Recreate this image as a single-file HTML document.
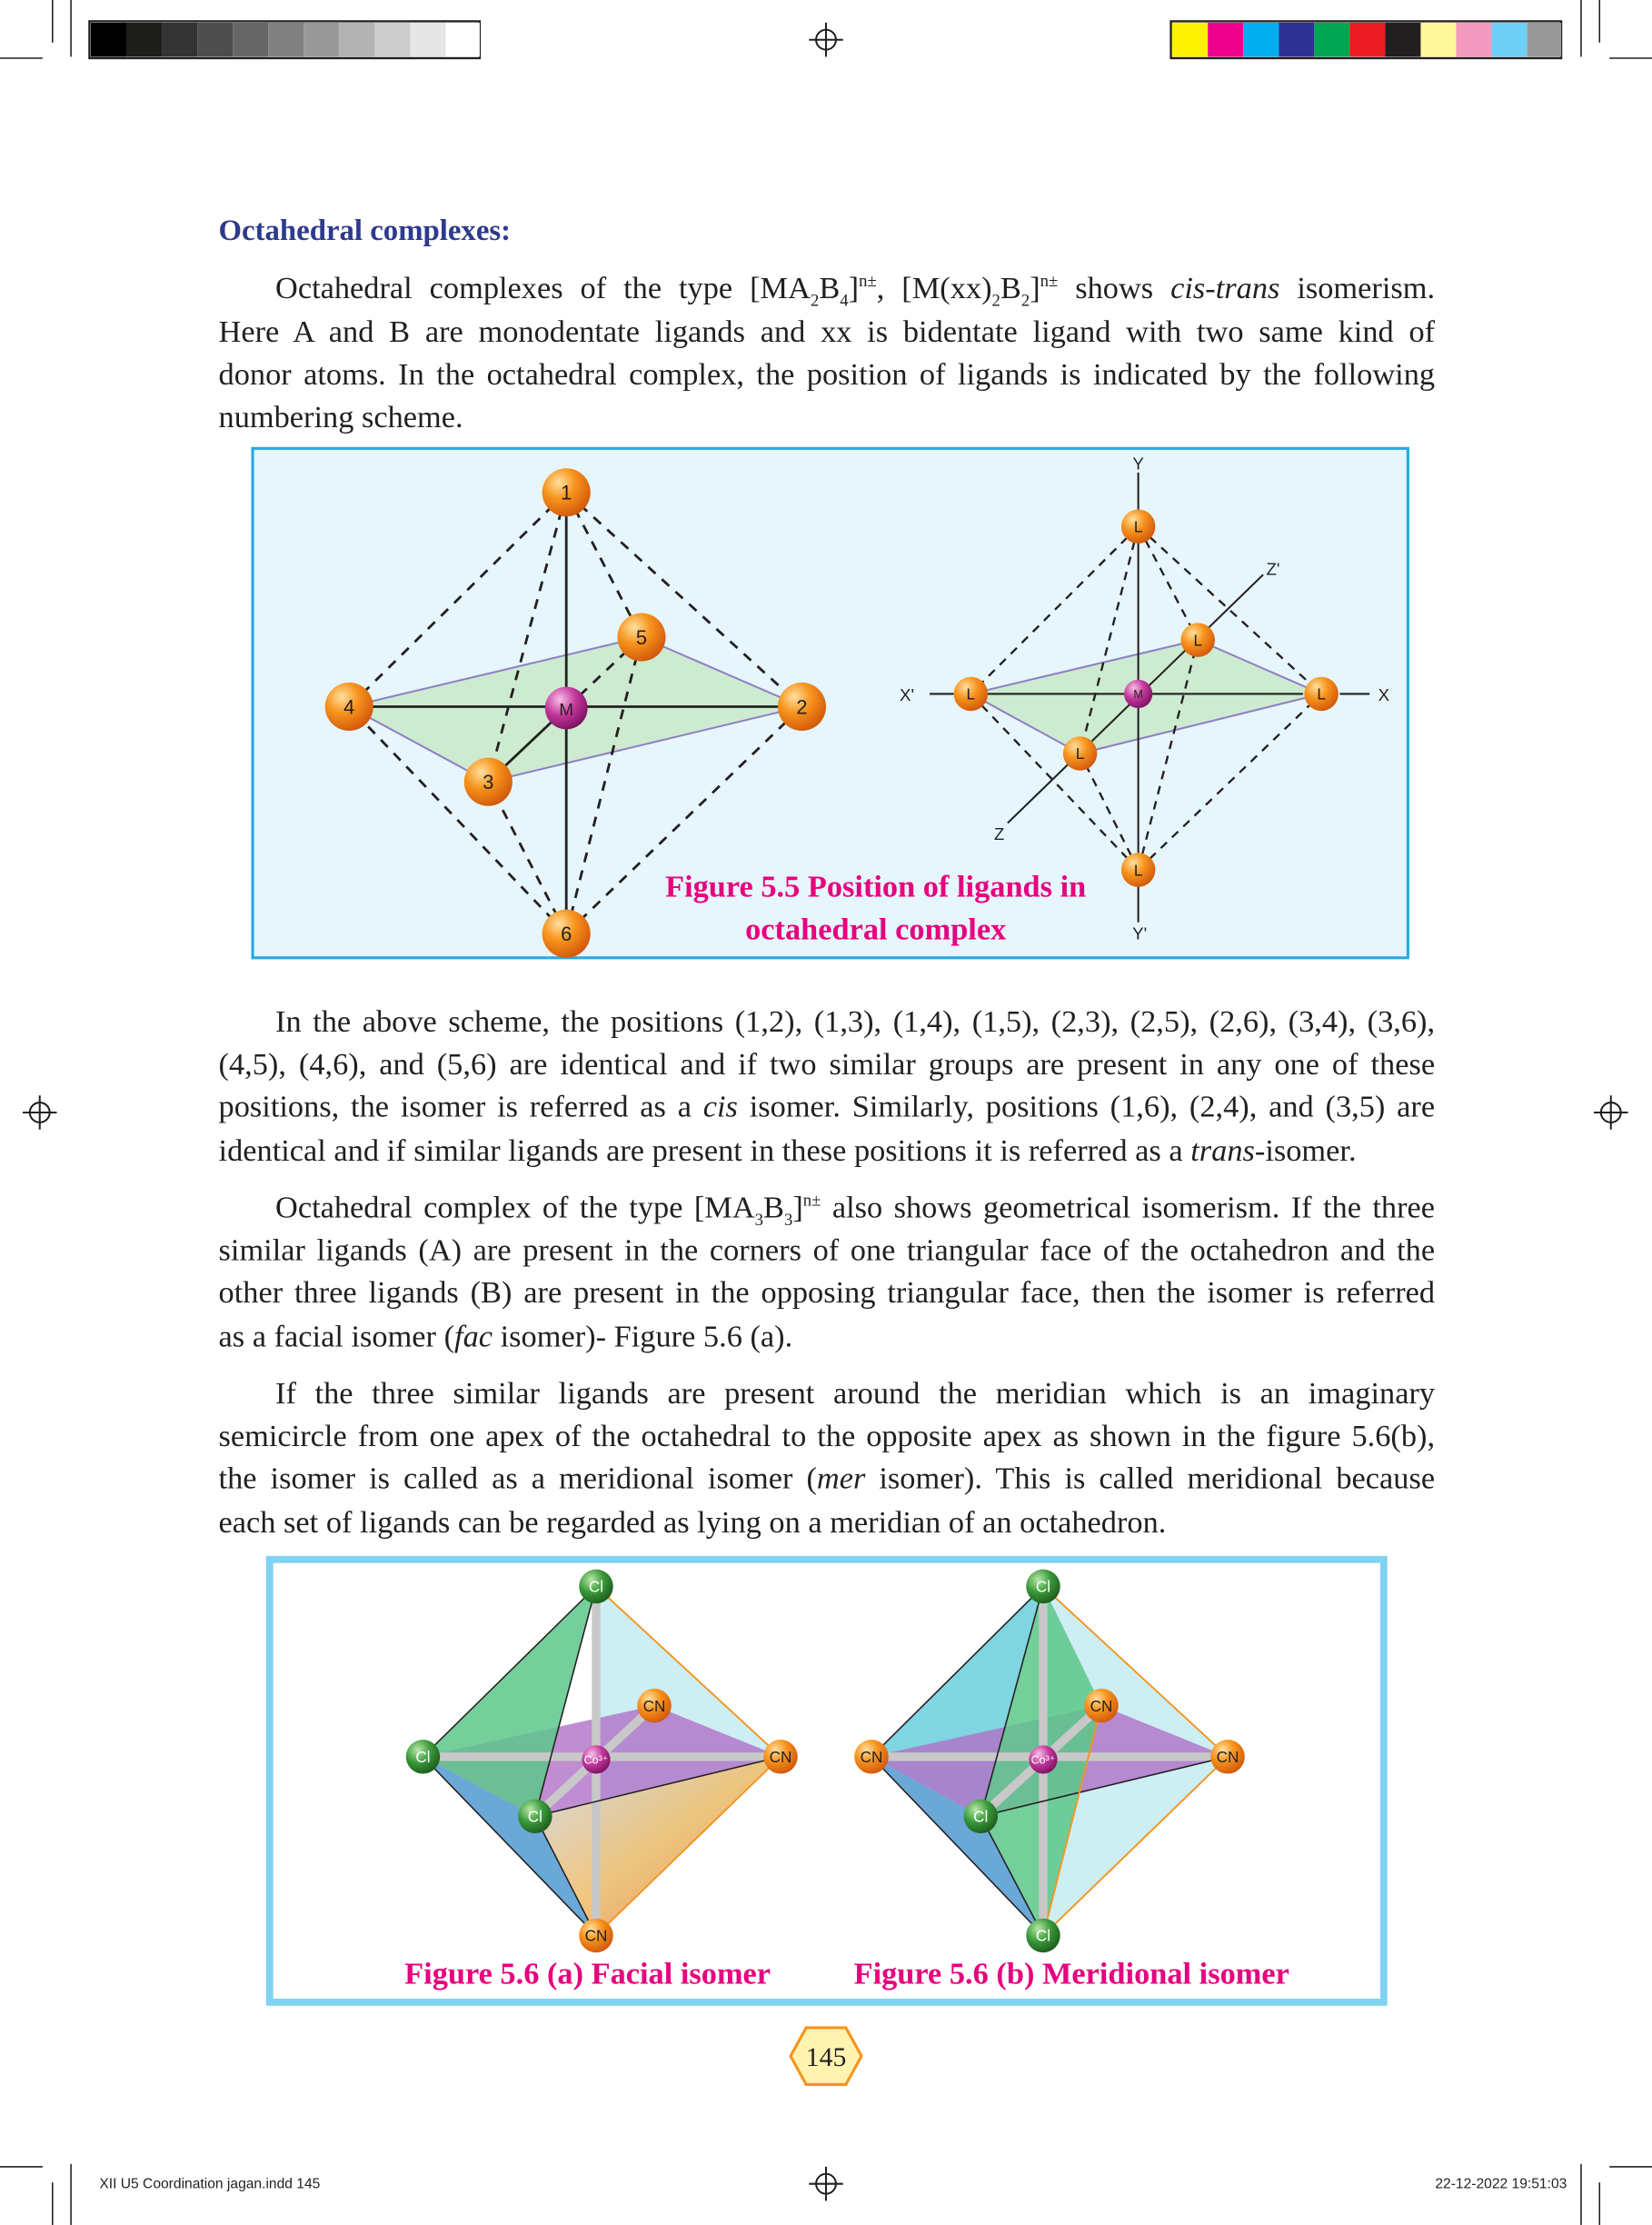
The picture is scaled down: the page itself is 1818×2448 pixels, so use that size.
<!DOCTYPE html>
<html><head><meta charset="utf-8"><style>
html,body{margin:0;padding:0;background:#fff;}
#page{position:relative;width:1164px;height:1568px;transform:scale(1.5619,1.5612);transform-origin:0 0;font-family:"Liberation Serif",serif;color:#231f20;overflow:hidden;}
.ln{position:absolute;left:154px;width:857px;font-size:22px;line-height:30px;text-align:justify;text-align-last:justify;white-space:nowrap;}
.ln.last{text-align-last:left;}
.ind{left:194px;width:817px;}
sub,sup{font-size:12px;line-height:0;}
.abs{position:absolute;}
</style></head><body>
<div id="page">
<svg class="abs" style="left:0;top:0" width="1164" height="1568">
 <g stroke="#231f20" stroke-width="1">
  <line x1="0" y1="41" x2="30" y2="41"/><line x1="37" y1="0" x2="37" y2="30"/>
  <line x1="1134" y1="41" x2="1164" y2="41"/><line x1="1127" y1="0" x2="1127" y2="30"/>
  <line x1="50" y1="0" x2="50" y2="40"/><line x1="1114" y1="0" x2="1114" y2="40"/>
  <line x1="0" y1="1527" x2="30" y2="1527"/><line x1="37" y1="1538" x2="37" y2="1568"/>
  <line x1="1134" y1="1527" x2="1164" y2="1527"/><line x1="1127" y1="1538" x2="1127" y2="1568"/>
  <line x1="50" y1="1525" x2="50" y2="1568"/><line x1="1114" y1="1525" x2="1114" y2="1568"/>
 </g>
 <rect x="63" y="15" width="275" height="26" fill="none" stroke="#231f20" stroke-width="1.5"/>
 <g>
  <rect x="64" y="16" width="25" height="24" fill="#000"/><rect x="89" y="16" width="25" height="24" fill="#1d1d1b"/>
  <rect x="114" y="16" width="25" height="24" fill="#333"/><rect x="139" y="16" width="25" height="24" fill="#4d4d4d"/>
  <rect x="164" y="16" width="25" height="24" fill="#666"/><rect x="189" y="16" width="25" height="24" fill="#808080"/>
  <rect x="214" y="16" width="25" height="24" fill="#999"/><rect x="239" y="16" width="25" height="24" fill="#b3b3b3"/>
  <rect x="264" y="16" width="25" height="24" fill="#ccc"/><rect x="289" y="16" width="25" height="24" fill="#e6e6e6"/>
  <rect x="314" y="16" width="24" height="24" fill="#fff"/>
 </g>
 <rect x="825" y="15" width="275" height="26" fill="none" stroke="#231f20" stroke-width="1.5"/>
 <g>
  <rect x="826" y="16" width="25" height="24" fill="#fff200"/><rect x="851" y="16" width="25" height="24" fill="#ec008c"/>
  <rect x="876" y="16" width="25" height="24" fill="#00aeef"/><rect x="901" y="16" width="25" height="24" fill="#2e3192"/>
  <rect x="926" y="16" width="25" height="24" fill="#00a651"/><rect x="951" y="16" width="25" height="24" fill="#ed1c24"/>
  <rect x="976" y="16" width="25" height="24" fill="#231f20"/><rect x="1001" y="16" width="25" height="24" fill="#fff799"/>
  <rect x="1026" y="16" width="25" height="24" fill="#f49ac1"/><rect x="1051" y="16" width="25" height="24" fill="#6dcff6"/>
  <rect x="1076" y="16" width="24" height="24" fill="#999"/>
 </g>
 <g fill="none" stroke="#231f20" stroke-width="1.3">
  <circle cx="582" cy="28" r="7"/><line x1="570" y1="28" x2="594" y2="28"/><line x1="582" y1="16" x2="582" y2="40"/>
  <circle cx="28" cy="784" r="7"/><line x1="16" y1="784" x2="40" y2="784"/><line x1="28" y1="772" x2="28" y2="796"/>
  <circle cx="1135" cy="784" r="7"/><line x1="1123" y1="784" x2="1147" y2="784"/><line x1="1135" y1="772" x2="1135" y2="796"/>
  <circle cx="582" cy="1539" r="7"/><line x1="570" y1="1539" x2="594" y2="1539"/><line x1="582" y1="1527" x2="582" y2="1551"/>
 </g>
</svg>

<div class="abs" style="left:154px;top:150px;font-size:21px;font-weight:bold;color:#2e3a8c">Octahedral complexes:</div>

<div class="ln ind" style="top:188px">Octahedral complexes of the type [MA<sub>2</sub>B<sub>4</sub>]<sup>n±</sup>, [M(xx)<sub>2</sub>B<sub>2</sub>]<sup>n±</sup> shows <i>cis-trans</i> isomerism.</div>
<div class="ln" style="top:219px">Here A and B are monodentate ligands and xx is bidentate ligand with two same kind of</div>
<div class="ln" style="top:249px">donor atoms. In the octahedral complex, the position of ligands is indicated by the following</div>
<div class="ln last" style="top:279px">numbering scheme.</div>

<svg class="abs" style="left:0;top:0" width="1164" height="1568">
 <defs>
  <radialGradient id="og" cx="0.35" cy="0.3" r="0.75"><stop offset="0" stop-color="#ffe0a0"/><stop offset="0.45" stop-color="#f7941d"/><stop offset="1" stop-color="#d0560a"/></radialGradient>
  <radialGradient id="mg" cx="0.35" cy="0.3" r="0.75"><stop offset="0" stop-color="#f8c0e8"/><stop offset="0.5" stop-color="#c2379a"/><stop offset="1" stop-color="#7a1060"/></radialGradient>
  <radialGradient id="gg" cx="0.35" cy="0.3" r="0.75"><stop offset="0" stop-color="#b8e8a8"/><stop offset="0.5" stop-color="#3a9a3a"/><stop offset="1" stop-color="#1c5a1c"/></radialGradient>
  <linearGradient id="warm" x1="0" y1="0" x2="1" y2="1"><stop offset="0" stop-color="#cdd6e6"/><stop offset="0.5" stop-color="#f0c070"/><stop offset="1" stop-color="#f07a50"/></linearGradient>
 </defs>
 <rect x="178" y="316" width="814" height="359" fill="#e6f6fc" stroke="#29a9e0" stroke-width="2"/>
 <polygon points="246,498 452,449 565,498 344,551" fill="#cdebd0" stroke="#8f7fc6" stroke-width="1.3"/>
 <g stroke="#231f20" stroke-width="1.8" fill="none">
  <line x1="246" y1="498" x2="565" y2="498"/><line x1="399" y1="347" x2="399" y2="658"/>
  <line x1="344" y1="551" x2="399" y2="499"/>
 </g>
 <g stroke="#231f20" stroke-width="1.8" stroke-dasharray="7,6" fill="none">
  <line x1="399" y1="499" x2="452" y2="449"/>
  <line x1="399" y1="347" x2="246" y2="498"/><line x1="399" y1="347" x2="565" y2="498"/>
  <line x1="399" y1="347" x2="344" y2="551"/><line x1="399" y1="347" x2="452" y2="449"/>
  <line x1="399" y1="658" x2="246" y2="498"/><line x1="399" y1="658" x2="565" y2="498"/>
  <line x1="399" y1="658" x2="344" y2="551"/><line x1="399" y1="658" x2="452" y2="449"/>
 </g>
 <g font-family="Liberation Sans,sans-serif" font-size="14" text-anchor="middle" fill="#231f20">
  <circle cx="399" cy="347" r="17" fill="url(#og)"/><text x="399" y="352">1</text>
  <circle cx="565" cy="498" r="17" fill="url(#og)"/><text x="565" y="503">2</text>
  <circle cx="344" cy="551" r="17" fill="url(#og)"/><text x="344" y="556">3</text>
  <circle cx="246" cy="498" r="17" fill="url(#og)"/><text x="246" y="503">4</text>
  <circle cx="452" cy="449" r="17" fill="url(#og)"/><text x="452" y="454">5</text>
  <circle cx="399" cy="658" r="17" fill="url(#og)"/><text x="399" y="663">6</text>
  <circle cx="399" cy="499" r="15" fill="url(#mg)"/><text x="399" y="504" font-size="12">M</text>
 </g>
 <polygon points="684,489 844,451 931,489 761,531" fill="#cdebd0" stroke="#8f7fc6" stroke-width="1.3"/>
 <g stroke="#231f20" stroke-width="1.3" fill="none">
  <line x1="802" y1="333" x2="802" y2="650"/><line x1="655" y1="489" x2="672" y2="489"/><line x1="696" y1="489" x2="918" y2="489"/><line x1="944" y1="489" x2="965" y2="489"/>
  <line x1="710" y1="580" x2="890" y2="405"/>
 </g>
 <g stroke="#231f20" stroke-width="1.5" stroke-dasharray="6,5" fill="none">
  <line x1="802" y1="371" x2="684" y2="489"/><line x1="802" y1="371" x2="931" y2="489"/>
  <line x1="802" y1="371" x2="761" y2="531"/><line x1="802" y1="371" x2="844" y2="451"/>
  <line x1="802" y1="613" x2="684" y2="489"/><line x1="802" y1="613" x2="931" y2="489"/>
  <line x1="802" y1="613" x2="761" y2="531"/><line x1="802" y1="613" x2="844" y2="451"/>
 </g>
 <g font-family="Liberation Sans,sans-serif" font-size="11" text-anchor="middle" fill="#231f20">
  <circle cx="802" cy="371" r="12" fill="url(#og)"/><text x="802" y="375">L</text>
  <circle cx="802" cy="613" r="12" fill="url(#og)"/><text x="802" y="617">L</text>
  <circle cx="684" cy="489" r="12" fill="url(#og)"/><text x="684" y="493">L</text>
  <circle cx="931" cy="489" r="12" fill="url(#og)"/><text x="931" y="493">L</text>
  <circle cx="844" cy="451" r="12" fill="url(#og)"/><text x="844" y="455">L</text>
  <circle cx="761" cy="531" r="12" fill="url(#og)"/><text x="761" y="535">L</text>
  <circle cx="802" cy="489" r="10" fill="url(#mg)"/><text x="802" y="492" font-size="8">M</text>
  <text x="802" y="331" font-size="12">Y</text><text x="803" y="662" font-size="12">Y'</text>
  <text x="639" y="494" font-size="12">X'</text><text x="975" y="494" font-size="12">X</text>
  <text x="897" y="405" font-size="12">Z'</text><text x="704" y="592" font-size="12">Z</text>
 </g>
 <g font-family="Liberation Serif,serif" font-size="22" font-weight="bold" fill="#e6007e" text-anchor="middle">
  <text x="617" y="632">Figure 5.5 Position of ligands in</text>
  <text x="617" y="662">octahedral complex</text>
 </g>
</svg>

<div class="ln ind" style="top:705px">In the above scheme, the positions (1,2), (1,3), (1,4), (1,5), (2,3), (2,5), (2,6), (3,4), (3,6),</div>
<div class="ln" style="top:735px">(4,5), (4,6), and (5,6) are identical and if two similar groups are present in any one of these</div>
<div class="ln" style="top:765px">positions, the isomer is referred as a <i>cis</i> isomer. Similarly, positions (1,6), (2,4), and (3,5) are</div>
<div class="ln last" style="top:796px">identical and if similar ligands are present in these positions it is referred as a <i>trans</i>-isomer.</div>

<div class="ln ind" style="top:836px">Octahedral complex of the type [MA<sub>3</sub>B<sub>3</sub>]<sup>n±</sup> also shows geometrical isomerism. If the three</div>
<div class="ln" style="top:866px">similar ligands (A) are present in the corners of one triangular face of the octahedron and the</div>
<div class="ln" style="top:896px">other three ligands (B) are present in the opposing triangular face, then the isomer is referred</div>
<div class="ln last" style="top:927px">as a facial isomer (<i>fac</i> isomer)- Figure 5.6 (a).</div>

<div class="ln ind" style="top:967px">If the three similar ligands are present around the meridian which is an imaginary</div>
<div class="ln" style="top:997px">semicircle from one apex of the octahedral to the opposite apex as shown in the figure 5.6(b),</div>
<div class="ln" style="top:1027px">the isomer is called as a meridional isomer (<i>mer</i> isomer). This is called meridional because</div>
<div class="ln last" style="top:1058px">each set of ligands can be regarded as lying on a meridian of an octahedron.</div>

<svg class="abs" style="left:0;top:0" width="1164" height="1568">
 <rect x="190" y="1099" width="785" height="312" fill="#fff" stroke="#7fd3f0" stroke-width="5"/>
 <g>
  <polygon points="420,1118 550,1238 420,1364" fill="#cdeef2" stroke="#5bc0d0" stroke-width="1"/>
  <polygon points="420,1364 550,1238 377,1280" fill="url(#warm)" opacity="0.9"/>
  <polygon points="298,1238 377,1280 420,1364" fill="#6aa8d8"/>
  <polygon points="298,1238 461,1202 550,1238 377,1280" fill="#b070c8" opacity="0.8"/>
  <polygon points="420,1118 298,1238 377,1280" fill="#5cc78a" opacity="0.85"/>
  <g stroke="#c8c8c8" stroke-width="6"><line x1="420" y1="1118" x2="420" y2="1364"/><line x1="298" y1="1238" x2="550" y2="1238"/><line x1="377" y1="1280" x2="461" y2="1202"/></g>
  <g stroke="#231f20" stroke-width="1"><line x1="420" y1="1118" x2="298" y2="1238"/><line x1="298" y1="1238" x2="420" y2="1364"/><line x1="420" y1="1118" x2="377" y2="1280"/><line x1="377" y1="1280" x2="420" y2="1364"/><line x1="377" y1="1280" x2="550" y2="1238"/></g>
  <g stroke="#f7941d" stroke-width="1.2"><line x1="550" y1="1238" x2="420" y2="1364"/><line x1="420" y1="1118" x2="550" y2="1238"/></g>
 </g>
 <g>
  <polygon points="735,1118 865,1238 735,1364" fill="#cdeef2" stroke="#5bc0d0" stroke-width="1"/>
  <polygon points="735,1118 614,1238 691,1280" fill="#7fd5e0"/>
  <polygon points="614,1238 691,1280 735,1364" fill="#6aa8d8"/>
  <polygon points="614,1238 776,1202 865,1238 691,1280" fill="#b070c8" opacity="0.8"/>
  <polygon points="735,1118 691,1280 735,1364 776,1202" fill="#5cc78a" opacity="0.85"/>
  <g stroke="#c8c8c8" stroke-width="6"><line x1="735" y1="1118" x2="735" y2="1364"/><line x1="614" y1="1238" x2="865" y2="1238"/><line x1="691" y1="1280" x2="776" y2="1202"/></g>
  <g stroke="#231f20" stroke-width="1"><line x1="735" y1="1118" x2="614" y2="1238"/><line x1="614" y1="1238" x2="735" y2="1364"/><line x1="735" y1="1118" x2="691" y2="1280"/><line x1="691" y1="1280" x2="735" y2="1364"/><line x1="691" y1="1280" x2="865" y2="1238"/></g>
  <g stroke="#f7941d" stroke-width="1.2"><line x1="865" y1="1238" x2="735" y2="1364"/><line x1="735" y1="1118" x2="865" y2="1238"/><line x1="776" y1="1202" x2="735" y2="1364"/></g>
 </g>
 <g font-family="Liberation Sans,sans-serif" font-size="11" text-anchor="middle" fill="#fff">
  <circle cx="420" cy="1118" r="12" fill="url(#gg)"/><text x="420" y="1122">Cl</text>
  <circle cx="298" cy="1238" r="12" fill="url(#gg)"/><text x="298" y="1242">Cl</text>
  <circle cx="377" cy="1280" r="12" fill="url(#gg)"/><text x="377" y="1284">Cl</text>
  <circle cx="550" cy="1238" r="12" fill="url(#og)"/><text x="550" y="1242" fill="#231f20">CN</text>
  <circle cx="461" cy="1202" r="12" fill="url(#og)"/><text x="461" y="1206" fill="#231f20">CN</text>
  <circle cx="420" cy="1364" r="12" fill="url(#og)"/><text x="420" y="1368" fill="#231f20">CN</text>
  <circle cx="420" cy="1240" r="10" fill="url(#mg)"/><text x="420" y="1243" font-size="8">Co³⁺</text>
  <circle cx="735" cy="1118" r="12" fill="url(#gg)"/><text x="735" y="1122">Cl</text>
  <circle cx="691" cy="1280" r="12" fill="url(#gg)"/><text x="691" y="1284">Cl</text>
  <circle cx="735" cy="1364" r="12" fill="url(#gg)"/><text x="735" y="1368">Cl</text>
  <circle cx="614" cy="1238" r="12" fill="url(#og)"/><text x="614" y="1242" fill="#231f20">CN</text>
  <circle cx="865" cy="1238" r="12" fill="url(#og)"/><text x="865" y="1242" fill="#231f20">CN</text>
  <circle cx="776" cy="1202" r="12" fill="url(#og)"/><text x="776" y="1206" fill="#231f20">CN</text>
  <circle cx="735" cy="1240" r="10" fill="url(#mg)"/><text x="735" y="1243" font-size="8">Co³⁺</text>
 </g>
 <g font-family="Liberation Serif,serif" font-size="22" font-weight="bold" fill="#e6007e" text-anchor="middle">
  <text x="414" y="1398">Figure 5.6 (a) Facial isomer</text>
  <text x="755" y="1398">Figure 5.6 (b) Meridional isomer</text>
 </g>
 <polygon points="568,1429 596,1429 607,1449 596,1469 568,1469 557,1449" fill="#fff3b0" stroke="#f7941d" stroke-width="2"/>
 <text x="582" y="1456" font-family="Liberation Serif,serif" font-size="19" text-anchor="middle" fill="#231f20">145</text>
 <g font-family="Liberation Sans,sans-serif" font-size="10" fill="#231f20" xml:space="preserve">
  <text x="70" y="1542">XII U5 Coordination jagan.indd    145</text>
  <text x="1104" y="1542" text-anchor="end">22-12-2022    19:51:03</text>
 </g>
</svg>
</div>
</body></html>
